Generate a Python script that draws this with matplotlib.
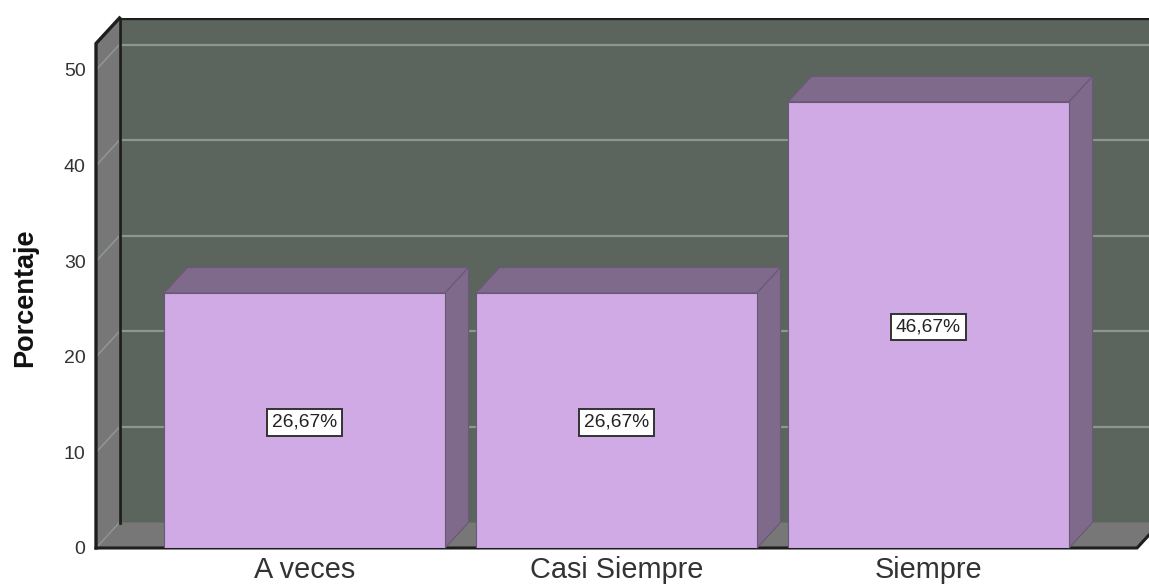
import matplotlib

matplotlib.use("Agg")
import matplotlib.pyplot as plt
from matplotlib.patches import Polygon

categories = ["A veces", "Casi Siempre", "Siempre"]
percentages = [26.67, 26.67, 46.67]
value_labels = ["26,67%", "26,67%", "46,67%"]
y_ticks = [0, 10, 20, 30, 40, 50]

WIDTH_PX, HEIGHT_PX = 1149, 587
LEFT_PX, RIGHT_PX, TOP_PX, BOTTOM_PX = 96, 1149, 18, 548
PX_PER_CAT = 312.0
PX_PER_UNIT = 9.56
DX = 23.5 / PX_PER_CAT
DY = 25.5 / PX_PER_UNIT
BAR_WIDTH = 281 / PX_PER_CAT

WALL = "#5b655e"
SIDE = "#777777"
EDGE = "#1e1e1e"
GRID = "#8d9690"
BAR_FRONT = "#cfaae5"
BAR_DARK = "#806a8c"
BAR_LINE = "#6a5876"

plt.rcParams["font.family"] = ["Liberation Sans", "DejaVu Sans"]

fig = plt.figure(figsize=(WIDTH_PX / 100, HEIGHT_PX / 100), dpi=100)
ax = fig.add_axes([
    LEFT_PX / WIDTH_PX,
    (HEIGHT_PX - BOTTOM_PX) / HEIGHT_PX,
    (RIGHT_PX - LEFT_PX) / WIDTH_PX,
    (BOTTOM_PX - TOP_PX) / HEIGHT_PX,
])
x_min = (LEFT_PX - 304.5) / PX_PER_CAT
x_max = (RIGHT_PX - 304.5) / PX_PER_CAT
x_floor = (1137 - 304.5) / PX_PER_CAT
y_top = (BOTTOM_PX - TOP_PX) / PX_PER_UNIT
y_front_top = y_top - DY
ax.set_xlim(x_min, x_max)
ax.set_ylim(0, y_top)
ax.patch.set_visible(False)
for spine in ax.spines.values():
    spine.set_visible(False)


def add_poly(points, color, zorder, edge="none", lw=0.0):
    ax.add_patch(Polygon(points, closed=True, facecolor=color, edgecolor=edge,
                         linewidth=lw, zorder=zorder, clip_on=False))


# back wall, left wall, floor
add_poly([(x_min + DX, DY), (x_max + DX, DY), (x_max + DX, y_top), (x_min + DX, y_top)], WALL, 1)
add_poly([(x_min, 0), (x_min + DX, DY), (x_min + DX, y_top), (x_min, y_front_top)], SIDE, 1)
add_poly([(x_min, 0), (x_floor, 0), (x_floor + DX, DY), (x_min + DX, DY)], SIDE, 1)

for tick in y_ticks[1:]:
    ax.plot([x_min + DX, x_max + DX], [tick + DY, tick + DY], color=GRID, lw=1.6, zorder=2, clip_on=True)
    ax.plot([x_min, x_min + DX], [tick, tick + DY], color=GRID, lw=1.2, zorder=2)
ax.plot([x_min, x_min + DX], [0, DY], color=GRID, lw=1.0, zorder=2)

# frame lines
ax.plot([x_min + DX, x_min + DX], [DY, y_top], color=EDGE, lw=2.0, zorder=3)
ax.plot([x_min + DX, x_max], [y_top, y_top], color=EDGE, lw=2.4, zorder=3)
ax.plot([x_min, x_min, x_min + DX], [0, y_front_top, y_top], color=EDGE, lw=2.4, zorder=3, clip_on=False)
ax.plot([x_min, x_floor, x_floor + DX], [0, 0, DY], color=EDGE, lw=2.2, zorder=3, clip_on=False)

positions = list(range(len(categories)))
ax.bar(positions, percentages, width=BAR_WIDTH, color=BAR_FRONT, edgecolor=BAR_LINE, linewidth=0.8, zorder=5)
for pos, value, label in zip(positions, percentages, value_labels):
    left, right = pos - BAR_WIDTH / 2, pos + BAR_WIDTH / 2
    add_poly([(left, value), (right, value), (right + DX, value + DY), (left + DX, value + DY)],
             BAR_DARK, 4, BAR_LINE, 0.8)
    add_poly([(right, 0), (right + DX, DY), (right + DX, value + DY), (right, value)],
             BAR_DARK, 4, BAR_LINE, 0.8)
    ax.text(pos, value / 2 - 0.2, label, ha="center", va="center", fontsize=13.8, color="#222222", zorder=6,
            bbox=dict(boxstyle="square,pad=0.24", facecolor="white", edgecolor="#333333", linewidth=1.4))

ax.set_xticks(positions, categories, fontsize=20.8, color="#333333")
ax.set_yticks(y_ticks, [str(t) for t in y_ticks], fontsize=14, color="#333333")
ax.tick_params(axis="both", length=0)
ax.tick_params(axis="x", pad=6)
ax.tick_params(axis="y", pad=7.5)
ax.set_ylabel("Porcentaje", fontsize=19.5, fontweight="bold", color="#111111")
ax.yaxis.set_label_coords((38 - LEFT_PX) / (RIGHT_PX - LEFT_PX), (BOTTOM_PX - 298) / (BOTTOM_PX - TOP_PX))

fig.savefig("out.png", dpi=100)
